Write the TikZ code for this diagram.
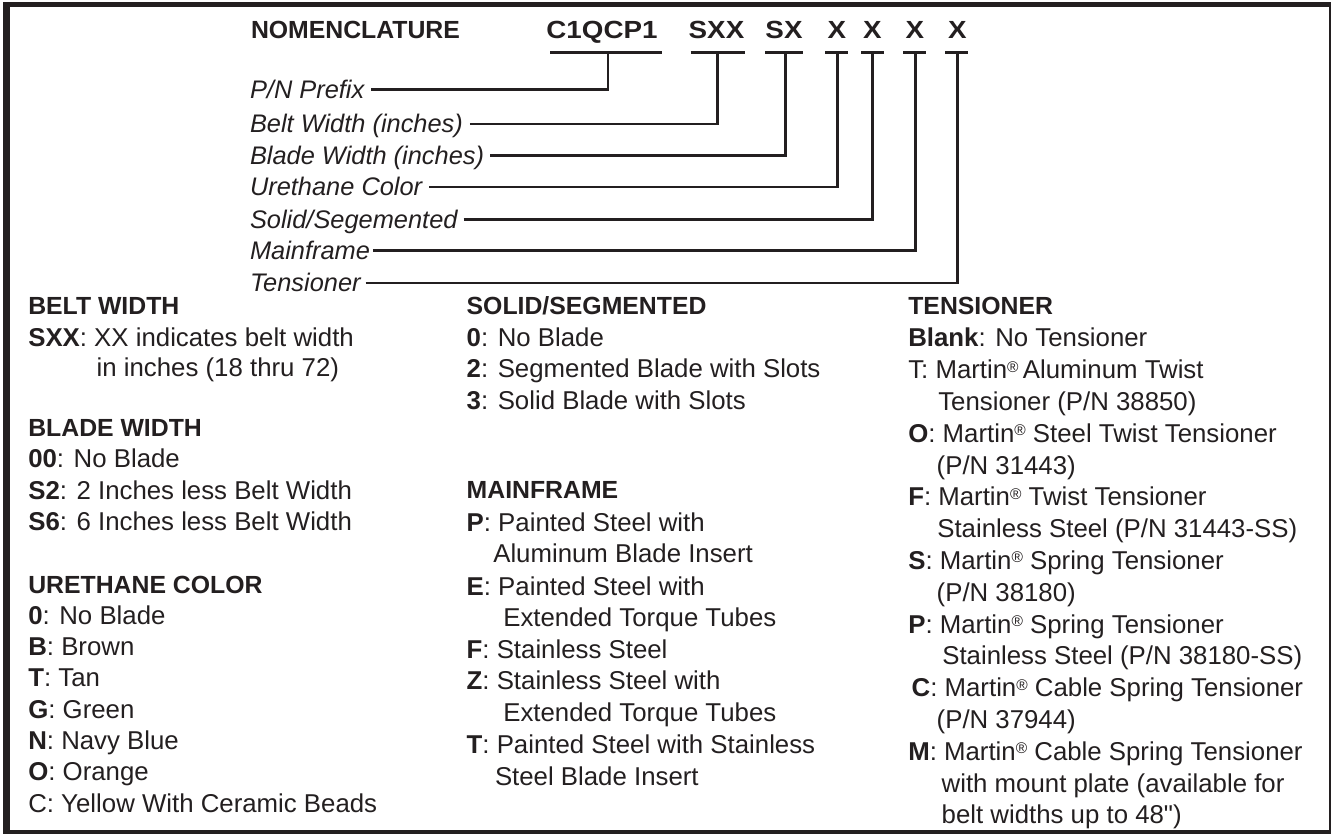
\documentclass[tikz,border=0pt]{standalone}
\usepackage{fontspec}
\setmainfont{Liberation Sans}
\newfontfamily\codefont[FakeStretch=1.12]{Liberation Sans}
\newfontfamily\straightfont{Liberation Sans}
\definecolor{ink}{HTML}{231F20}
\newcommand{\regmark}{\raisebox{6.5pt}{\fontsize{15.5}{15.5}\selectfont ®}}
\begin{document}
\begin{tikzpicture}[x=1pt,y=-1pt,
  every node/.style={inner sep=0pt, outer sep=0pt, text=ink, anchor=base west},
  body/.style={font=\fontsize{25.8}{31}\selectfont},
  head/.style={font=\fontsize{24.8}{30}\selectfont\bfseries},
  lab/.style={font=\fontsize{25.4}{30}\selectfont\itshape, anchor=west, text height=18pt, text depth=0pt},
  code/.style={font=\fontsize{24.8}{30}\selectfont\codefont\bfseries, anchor=base},
  conn/.style={draw=ink, line width=2.8pt},
  frame/.style={fill=ink}]
\useasboundingbox (0,0) rectangle (1331,834);
% frame
\fill[frame] (3.3,1.7) rectangle (1331,7.3);
\fill[frame] (3.3,1.7) rectangle (10,834);
\fill[frame] (3.3,830) rectangle (1331,834);
\fill[frame] (1329.2,1.7) rectangle (1330.8,834);
% title row
\node[head] (nom) at (251,38.5) {NOMENCLATURE};
\node[code] (c1) at (602,38.5) {C1QCP1};
\node[code] (c2) at (716.5,38.5) {SXX};
\node[code] (c3) at (784,38.5) {SX};
\node[code] (c4) at (837,38.5) {X};
\node[code] (c5) at (872.5,38.5) {X};
\node[code] (c6) at (915,38.5) {X};
\node[code] (c7) at (957.5,38.5) {X};
% underlines
\draw[conn] (550,52.3) -- (662,52.3);
\draw[conn] (690.7,52.3) -- (745,52.3);
\draw[conn] (765,52.3) -- (803,52.3);
\draw[conn] (825,52.3) -- (848,52.3);
\draw[conn] (861,52.3) -- (884,52.3);
\draw[conn] (903,52.3) -- (926,52.3);
\draw[conn] (945,52.3) -- (968,52.3);
\coordinate (u1) at (608,52.3);
\coordinate (u2) at (717.3,52.3);
\coordinate (u3) at (785.7,52.3);
\coordinate (u4) at (837.7,52.3);
\coordinate (u5) at (872.7,52.3);
\coordinate (u6) at (915.3,52.3);
\coordinate (u7) at (957.7,52.3);
% labels
\node[lab] (l1) at (250,89.5) {P/N Prefix};
\node[lab] (l2) at (250,124) {Belt Width (inches)};
\node[lab] (l3) at (250,155.5) {Blade Width (inches)};
\node[lab] (l4) at (250,187) {Urethane Color};
\node[lab] (l5) at (250,219.5) {Solid/Segemented};
\node[lab] (l6) at (250,250.5) {Mainframe};
\node[lab] (l7) at (250,283) {Tensioner};
\draw[conn] ([xshift=7pt]l1.east) -| (u1);
\draw[conn] ([xshift=7pt]l2.east) -| (u2);
\draw[conn] ([xshift=6pt]l3.east) -| (u3);
\draw[conn] ([xshift=7pt]l4.east) -| (u4);
\draw[conn] ([xshift=6pt]l5.east) -| (u5);
\draw[conn] ([xshift=3pt]l6.east) -| (u6);
\draw[conn] ([xshift=5pt]l7.east) -| (u7);
% left column
\node[head] (bw) at (28.3,315) {BELT WIDTH};
\node[body] (bw1) at (28.3,346.2) {\textbf{SXX}: XX indicates belt width};
\node[body] (bw2) at (96.7,376.9) {in inches (18 thru 72)};
\node[head] (bl) at (28.3,436.8) {BLADE WIDTH};
\node[body] (bl1) at (28.3,467.9) {\textbf{00}: No Blade};
\node[body] (bl2) at (28.3,499) {\textbf{S2}: 2 Inches less Belt Width};
\node[body] (bl3) at (28.3,530.5) {\textbf{S6}: 6 Inches less Belt Width};
\node[head] (uc) at (28.3,593) {URETHANE COLOR};
\node[body] (uc1) at (28.3,624.2) {\textbf{0}: No Blade};
\node[body] (uc2) at (28.3,655.5) {\textbf{B}: Brown};
\node[body] (uc3) at (28.3,686.8) {\textbf{T}: Tan};
\node[body] (uc4) at (28.3,718) {\textbf{G}: Green};
\node[body] (uc5) at (28.3,749.3) {\textbf{N}: Navy Blue};
\node[body] (uc6) at (28.3,780.6) {\textbf{O}: Orange};
\node[body] (uc7) at (28.3,812) {C: Yellow With Ceramic Beads};
% middle column
\node[head] (ss) at (466.7,315) {SOLID/SEGMENTED};
\node[body] (ss1) at (466.7,346.5) {\textbf{0}: No Blade};
\node[body] (ss2) at (466.7,377.8) {\textbf{2}: Segmented Blade with Slots};
\node[body] (ss3) at (466.7,409.5) {\textbf{3}: Solid Blade with Slots};
\node[head] (mf) at (466.7,498.5) {MAINFRAME};
\node[body] (mf1) at (466.7,531) {\textbf{P}: Painted Steel with};
\node[body] (mf1b) at (493.3,562.5) {Aluminum Blade Insert};
\node[body] (mf2) at (466.7,595) {\textbf{E}: Painted Steel with};
\node[body] (mf2b) at (503.3,626.5) {Extended Torque Tubes};
\node[body] (mf3) at (466.7,658) {\textbf{F}: Stainless Steel};
\node[body] (mf4) at (466.7,689.5) {\textbf{Z}: Stainless Steel with};
\node[body] (mf4b) at (503.3,721.5) {Extended Torque Tubes};
\node[body] (mf5) at (466.7,753) {\textbf{T}: Painted Steel with Stainless};
\node[body] (mf5b) at (495,785) {Steel Blade Insert};
% right column
\node[head] (tn) at (908.3,315) {TENSIONER};
\node[body] (tn1) at (908.3,346.8) {\textbf{Blank}: No Tensioner};
\node[body] (tn2) at (908.3,378.6) {T: Martin\regmark\,Aluminum Twist};
\node[body] (tn2b) at (938.3,410.4) {Tensioner (P/N 38850)};
\node[body] (tn3) at (908.3,442.2) {\textbf{O}: Martin\regmark{} Steel Twist Tensioner};
\node[body] (tn3b) at (936.7,474) {(P/N 31443)};
\node[body] (tn4) at (908.3,505.8) {\textbf{F}: Martin\regmark{} Twist Tensioner};
\node[body] (tn4b) at (937.3,537.6) {Stainless Steel (P/N 31443-SS)};
\node[body] (tn5) at (908.3,569.4) {\textbf{S}: Martin\regmark{} Spring Tensioner};
\node[body] (tn5b) at (936.7,601.2) {(P/N 38180)};
\node[body] (tn6) at (908.3,633) {\textbf{P}: Martin\regmark{} Spring Tensioner};
\node[body] (tn6b) at (942.3,664.8) {Stainless Steel (P/N 38180-SS)};
\node[body] (tn7) at (911.7,696.6) {\textbf{C}: Martin\regmark{} Cable Spring Tensioner};
\node[body] (tn7b) at (936.7,728.4) {(P/N 37944)};
\node[body] (tn8) at (908.3,760.2) {\textbf{M}: Martin\regmark{} Cable Spring Tensioner};
\node[body] (tn8b) at (941.7,792) {with mount plate (available for};
\node[body] (tn8c) at (941.7,823.8) {belt widths up to 48{\straightfont"})};
\end{tikzpicture}
\end{document}
